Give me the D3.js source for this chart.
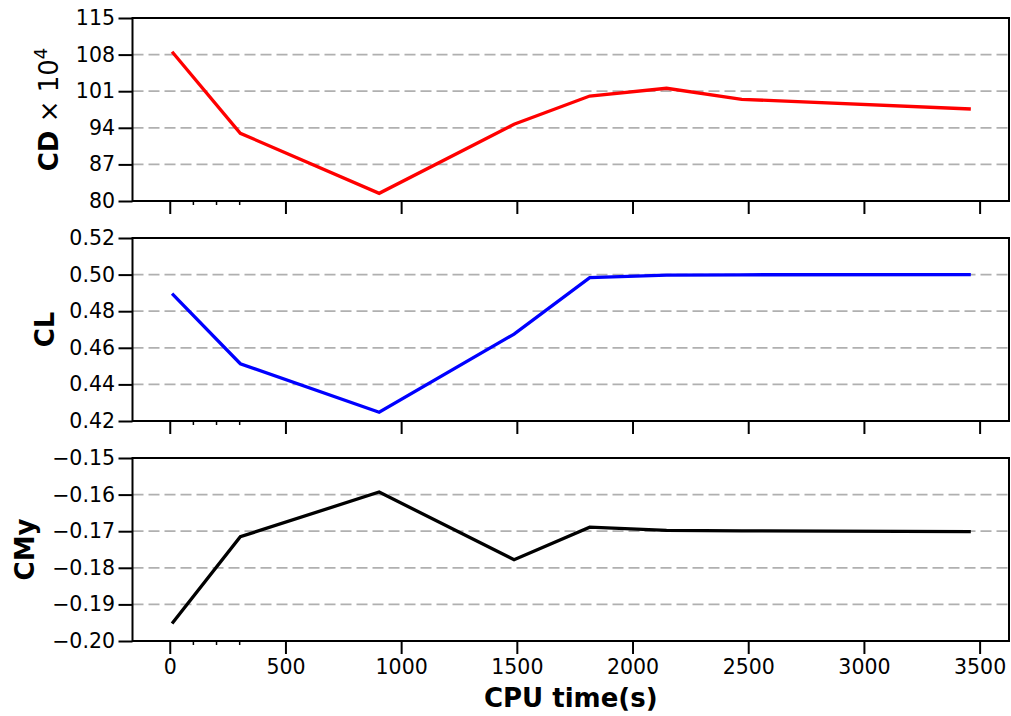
<!DOCTYPE html>
<html>
<head>
<meta charset="utf-8">
<script src="https://cdn.jsdelivr.net/npm/d3@7"></script>
<style>
  body { margin: 0; background: #fff; }
  text { font-family: "DejaVu Sans", sans-serif; }
</style>
</head>
<body>
<div id="chart"></div>
<script>
// values
const cpuTime = [10, 305, 905, 1488, 1815, 2147, 2472, 3462];
const cdValues = [108.55, 92.95, 81.47, 94.67, 100.08, 101.56, 99.45, 97.6];
const clValues = [0.4896, 0.4513, 0.4248, 0.4675, 0.4983, 0.4997, 0.4999, 0.5];
const cmyValues = [-0.1952, -0.1715, -0.1593, -0.1778, -0.1689, -0.1698, -0.1699, -0.1701];

const xTicks = [0, 500, 1000, 1500, 2000, 2500, 3000, 3500];
const xMinorTicks = [100, 200, 300];
const cdTicks = [80, 87, 94, 101, 108, 115];
const clTicks = [0.42, 0.44, 0.46, 0.48, 0.5, 0.52];
const cmyTicks = [-0.2, -0.19, -0.18, -0.17, -0.16, -0.15];

const width = 1011;
const height = 716;
const left = 132.5;
const right = 1009;
const panelH = 183;

const panels = [
  { top: 18, values: cdValues, ticks: cdTicks, color: "#ff0000", fmt: d3.format("d"), labelX: 58 },
  { top: 238, values: clValues, ticks: clTicks, color: "#0000ff", fmt: d3.format(".2f"), labelX: 54 },
  { top: 458, values: cmyValues, ticks: cmyTicks, color: "#000000", fmt: d3.format(".2f"), labelX: 34 }
];

const svg = d3
  .select("#chart")
  .append("svg")
  .attr("width", width)
  .attr("height", height);

const x = d3.scaleLinear().domain([-161, 3627]).range([left, right]);

panels.forEach((p, i) => {
  const y = d3
    .scaleLinear()
    .domain([p.ticks[0], p.ticks[p.ticks.length - 1]])
    .range([p.top + panelH, p.top]);

  const g = svg.append("g");

  // dashed grid lines (inner ticks only)
  g.selectAll("line.grid")
    .data(p.ticks.slice(1, -1))
    .join("line")
    .attr("class", "grid")
    .attr("x1", left)
    .attr("x2", right)
    .attr("y1", (d) => y(d))
    .attr("y2", (d) => y(d))
    .attr("stroke", "#b0b0b0")
    .attr("stroke-width", 1.8)
    .attr("stroke-dasharray", "11,5");

  // data line
  const line = d3
    .line()
    .x((d, j) => x(cpuTime[j]))
    .y((d) => y(d));

  g.append("path")
    .datum(p.values)
    .attr("d", line)
    .attr("fill", "none")
    .attr("stroke", p.color)
    .attr("stroke-width", 3.3)
    .attr("stroke-linejoin", "miter");

  // y axis
  const yAxis = g
    .append("g")
    .attr("transform", `translate(${left},0)`)
    .call(
      d3.axisLeft(y).tickValues(p.ticks).tickFormat(p.fmt).tickSize(14).tickPadding(3.5)
    );
  yAxis.select(".domain").remove();
  yAxis.selectAll(".tick line").attr("stroke", "#000").attr("stroke-width", 2);
  yAxis
    .selectAll(".tick text")
    .attr("font-size", 20.5)
    .attr("font-family", "DejaVu Sans")
    .attr("fill", "#000");

  // x axis
  const xAxis = g
    .append("g")
    .attr("transform", `translate(0,${p.top + panelH})`)
    .call(
      d3
        .axisBottom(x)
        .tickValues(xTicks)
        .tickSize(13)
        .tickPadding(5)
        .tickFormat(i === 2 ? d3.format("d") : () => "")
    );
  xAxis.select(".domain").remove();
  xAxis.selectAll(".tick line").attr("stroke", "#000").attr("stroke-width", 2);
  xAxis
    .selectAll(".tick text")
    .attr("font-size", 20.5)
    .attr("font-family", "DejaVu Sans")
    .attr("fill", "#000");

  const xMinor = g
    .append("g")
    .attr("transform", `translate(0,${p.top + panelH})`)
    .call(d3.axisBottom(x).tickValues(xMinorTicks).tickSize(4).tickFormat(() => ""));
  xMinor.select(".domain").remove();
  xMinor.selectAll(".tick line").attr("stroke", "#000").attr("stroke-width", 1.5);

  // frame
  g.append("rect")
    .attr("x", left)
    .attr("y", p.top)
    .attr("width", right - left)
    .attr("height", panelH)
    .attr("fill", "none")
    .attr("stroke", "#000")
    .attr("stroke-width", 2);

  // y label
  const label = g
    .append("text")
    .attr("transform", `translate(${p.labelX},${p.top + panelH / 2}) rotate(-90)`)
    .attr("text-anchor", "middle")
    .attr("font-size", 26)
    .attr("fill", "#000");

  if (i === 0) {
    label.append("tspan").attr("font-weight", "bold").text("CD");
    label.append("tspan").text(" \u00d7 10");
    label.append("tspan").attr("font-size", 18).attr("dy", -11).text("4");
  } else {
    label.attr("font-weight", "bold").text(i === 1 ? "CL" : "CMy");
  }
});

svg
  .append("text")
  .attr("x", (left + right) / 2)
  .attr("y", 707)
  .attr("text-anchor", "middle")
  .attr("font-size", 26)
  .attr("font-weight", "bold")
  .attr("fill", "#000")
  .text("CPU time(s)");
</script>
</body>
</html>
